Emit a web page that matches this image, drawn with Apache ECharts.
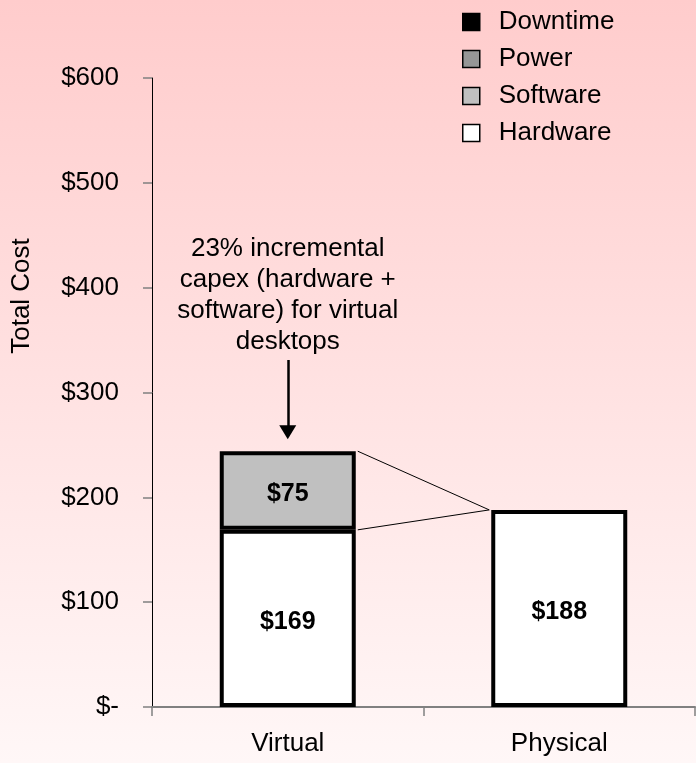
<!DOCTYPE html>
<html>
<head>
<meta charset="utf-8">
<script src="https://cdn.jsdelivr.net/npm/echarts@6/dist/echarts.min.js"></script>
<style>
  html, body { margin: 0; padding: 0; }
  #main { width: 696px; height: 763px; }
</style>
</head>
<body>
<div id="main"></div>
<script>
// chart data
const categories = ['Virtual', 'Physical'];
const hardware = [169, 188];
const software = [75, 0];
const power = [0, 0];
const downtime = [0, 0];
const yMax = 600;
const yStep = 100;
const note = ['23% incremental', 'capex (hardware +', 'software) for virtual', 'desktops'];

const font = 'Liberation Sans, Arial, sans-serif';
const barW = 136;
const border = 4;

// empty segments are left out so they don't draw a border line
const seg = arr => arr.map(v => (v === 0 ? '-' : v));

function barSeries(name, data, color, withLabel) {
  return {
    name: name,
    type: 'bar',
    stack: 'cost',
    barWidth: barW,
    data: seg(data),
    itemStyle: { color: color, borderColor: '#000', borderWidth: border },
    label: {
      show: withLabel,
      position: 'inside',
      offset: [0, 4],
      formatter: '${c}',
      fontFamily: font,
      fontSize: 25,
      fontWeight: 'bold',
      color: '#000'
    },
    emphasis: { disabled: true }
  };
}

let myChart = echarts.init(document.getElementById('main'));

let hw = barSeries('Hardware', hardware, '#FFFFFF', true);
hw.markLine = {
  silent: true,
  symbol: ['none', 'triangle'],
  symbolSize: [17, 14],
  lineStyle: { color: '#000', width: 2.5, type: 'solid' },
  label: { show: false },
  data: [[{ coord: ['Virtual', 331] }, { coord: ['Virtual', 262] }]]
};

let option = {
  animation: false,
  backgroundColor: new echarts.graphic.LinearGradient(0, 0, 0, 1, [
    { offset: 0, color: '#FFCCCC' },
    { offset: 1, color: '#FFF7F7' }
  ]),
  textStyle: { fontFamily: font },
  legend: {
    orient: 'vertical',
    left: 457,
    top: 4,
    itemWidth: 17,
    itemHeight: 17,
    itemGap: 11,
    icon: 'rect',
    data: ['Downtime', 'Power', 'Software', 'Hardware'],
    itemStyle: { borderColor: '#000', borderWidth: 1.5 },
    textStyle: { fontFamily: font, fontSize: 26, color: '#000', padding: [0, 0, 0, 14] },
    selectedMode: false
  },
  grid: { left: 152, right: 1, top: 78, bottom: 56 },
  xAxis: {
    type: 'category',
    data: categories,
    axisLine: { lineStyle: { color: '#808080', width: 2 } },
    axisTick: { show: true, length: 9, lineStyle: { color: '#808080', width: 1.5 } },
    axisLabel: { fontFamily: font, fontSize: 26, color: '#000', margin: 24 }
  },
  yAxis: {
    type: 'value',
    min: 0,
    max: yMax,
    interval: yStep,
    splitLine: { show: false },
    axisLine: { show: true, lineStyle: { color: '#000', width: 1 } },
    axisTick: { show: true, length: 9, lineStyle: { color: '#808080', width: 1.5 } },
    axisLabel: {
      fontFamily: font,
      fontSize: 26,
      color: '#000',
      margin: 33,
      formatter: v => (v === 0 ? '$-' : '$' + v)
    }
  },
  series: [
    hw,
    barSeries('Software', software, '#C0C0C0', true),
    barSeries('Power', power, '#969696', false),
    barSeries('Downtime', downtime, '#000000', false)
  ]
};
myChart.setOption(option);

// series lines between the stacks, annotation and axis title
let half = barW / 2 + border / 2;
let topsA = [hardware[0], hardware[0] + software[0]];
let topsB = [hardware[1], hardware[1] + software[1]];
let graphics = [];
for (let i = 0; i < topsA.length; i++) {
  let a = myChart.convertToPixel({ seriesIndex: 0 }, [categories[0], topsA[i]]);
  let b = myChart.convertToPixel({ seriesIndex: 0 }, [categories[1], topsB[i]]);
  graphics.push({
    type: 'line',
    silent: true,
    shape: { x1: a[0] + half, y1: a[1], x2: b[0] - half, y2: b[1] },
    style: { stroke: '#000', lineWidth: 1 }
  });
}
let np = myChart.convertToPixel({ seriesIndex: 0 }, [categories[0], 452]);
graphics.push({
  type: 'text',
  silent: true,
  x: np[0],
  y: np[1],
  style: {
    text: note.join('\n'),
    font: '26px ' + font,
    lineHeight: 31,
    fill: '#000',
    align: 'center',
    verticalAlign: 'top'
  }
});
graphics.push({
  type: 'text',
  silent: true,
  x: 22,
  y: 296,
  rotation: Math.PI / 2,
  style: {
    text: 'Total Cost',
    font: '26px ' + font,
    fill: '#000',
    align: 'center',
    verticalAlign: 'middle'
  }
});
myChart.setOption({ graphic: graphics });
</script>
</body>
</html>
